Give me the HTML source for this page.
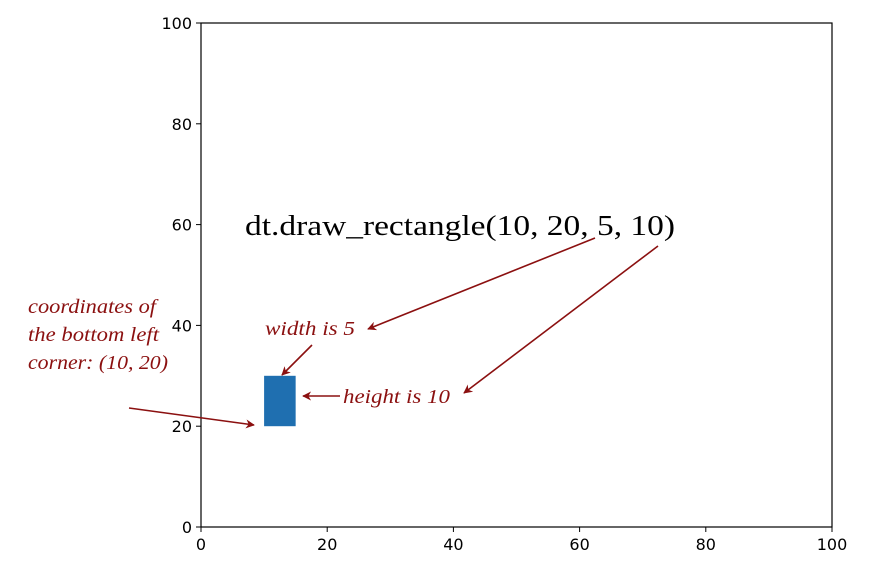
<!DOCTYPE html>
<html><head><meta charset="utf-8"><style>
html,body{margin:0;padding:0;background:#fff;}
svg{display:block;}
.tick{font-family:"DejaVu Sans","Liberation Sans",sans-serif;font-size:16px;fill:#000;}
.ann{font-family:"Liberation Serif",serif;font-style:italic;font-size:20px;fill:#8b1010;}
</style></head><body>
<svg id="chart" width="874" height="572" viewBox="0 0 874 572">
<defs><marker id="ah" viewBox="0 0 10 10" refX="9" refY="5" markerWidth="9" markerHeight="9" orient="auto-start-reverse" markerUnits="userSpaceOnUse"><path d="M0,0 L10,5 L0,10 L3,5 z" fill="#8b1010"/></marker></defs>
<g id="axes"></g>
<g id="marks"></g>
<text x="245" y="235" font-family="Liberation Serif,serif" font-size="28" textLength="430" lengthAdjust="spacingAndGlyphs" fill="#000">dt.draw_rectangle(10, 20, 5, 10)</text>
<text class="ann" x="265" y="335" textLength="90" lengthAdjust="spacingAndGlyphs">width is 5</text>
<text class="ann" x="343" y="403" textLength="107" lengthAdjust="spacingAndGlyphs">height is 10</text>
<text class="ann" x="28" y="313" textLength="128" lengthAdjust="spacingAndGlyphs">coordinates of</text>
<text class="ann" x="28" y="341" textLength="131" lengthAdjust="spacingAndGlyphs">the bottom left</text>
<text class="ann" x="28" y="369" textLength="140" lengthAdjust="spacingAndGlyphs">corner: (10, 20)</text>
<g stroke="#8b1010" stroke-width="1.6" fill="none">
<line x1="595" y1="238" x2="368" y2="329" marker-end="url(#ah)"/>
<line x1="658" y1="246" x2="464" y2="393" marker-end="url(#ah)"/>
<line x1="312" y1="345" x2="282" y2="375" marker-end="url(#ah)"/>
<line x1="340" y1="396" x2="303" y2="396" marker-end="url(#ah)"/>
<line x1="129" y1="408" x2="254" y2="425" marker-end="url(#ah)"/>
</g>
</svg>
<script>
const xTicks=[0,20,40,60,80,100];
const yTicks=[0,20,40,60,80,100];
const rectX=[10];
const rectY=[20];
const rectW=[5];
const rectH=[10];
const X0=201,X1=832,Y0=527,Y1=23;
const sx=v=>X0+(X1-X0)*v/100;
const sy=v=>Y0-(Y0-Y1)*v/100;
const NS='http://www.w3.org/2000/svg';
const axes=document.getElementById('axes');
const marks=document.getElementById('marks');
function mk(t,a,p){const e=document.createElementNS(NS,t);for(const k in a)e.setAttribute(k,a[k]);p.appendChild(e);return e;}
const frame=mk('rect',{x:X0,y:Y1,width:X1-X0,height:Y0-Y1,fill:'none',stroke:'#000','stroke-width':1.2},axes);


xTicks.forEach(v=>{
 const l=mk('line',{x1:sx(v),x2:sx(v),y1:Y0,y2:Y0+5,stroke:'#000'},axes);
 
 
 const t=mk('text',{x:sx(v),y:Y0+23,'text-anchor':'middle',class:'tick'},axes);
 t.textContent=v;
 
 
});
yTicks.forEach(v=>{
 const l=mk('line',{x1:X0-5,x2:X0,y1:sy(v),y2:sy(v),stroke:'#000'},axes);
 
 
 const t=mk('text',{x:X0-9,y:sy(v)+6,'text-anchor':'end',class:'tick'},axes);
 t.textContent=v;
 
 
});
rectX.forEach((x,i)=>{
 const r=mk('rect',{x:sx(x),y:sy(rectY[i]+rectH[i]),width:sx(x+rectW[i])-sx(x),height:sy(rectY[i])-sy(rectY[i]+rectH[i]),fill:'#1f6fb0'},marks);
 
 
});
</script>
</body></html>
